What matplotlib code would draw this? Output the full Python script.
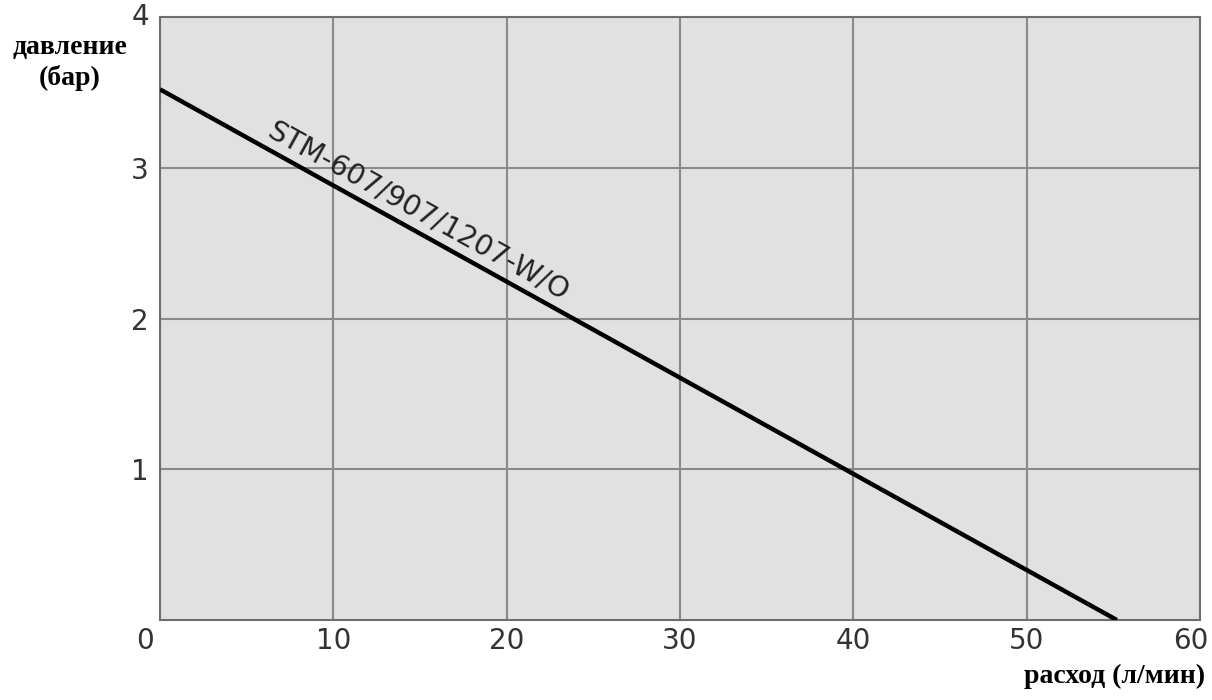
import numpy as np
import matplotlib.pyplot as plt
import matplotlib.transforms as mtransforms

# pump curve: flow (l/min) vs pressure (bar)
flow = [0, 55.2]
pressure = [3.52, 0]
curve_name = "STM-607/907/1207-W/O"

x_ticks = [0, 10, 20, 30, 40, 50, 60]
y_ticks = [1, 2, 3, 4]

fig = plt.figure(figsize=(12.12, 7.0), dpi=100)
ax = fig.add_axes([160 / 1212, 80 / 700, 1040 / 1212, 603 / 700])
ax.set_facecolor("#e1e1e1")

ax.plot(flow, pressure, color="black", lw=3.2, solid_capstyle="butt", zorder=3)

ax.set_xlim(0, 60)
ax.set_ylim(0, 4)
ax.set_xticks(x_ticks)
ax.set_yticks(y_ticks)
ax.set_xticklabels([str(v) for v in x_ticks], fontsize=20, color="#333333")
ax.set_yticklabels([str(v) for v in y_ticks], fontsize=20, color="#333333")
ax.tick_params(axis="x", length=0, pad=5)
ax.tick_params(axis="y", length=0, pad=8)
ax.grid(True, color="#8a8a8a", lw=1.5)
ax.set_axisbelow(True)
for s in ax.spines.values():
    s.set_color("#6e6e6e")
    s.set_linewidth(1.5)

# shift the "0" label left to the corner, and "60" a little inside
xl = ax.get_xticklabels()
xl[0].set_transform(xl[0].get_transform() + mtransforms.ScaledTranslation(-0.15, 0, fig.dpi_scale_trans))
xl[-1].set_transform(xl[-1].get_transform() + mtransforms.ScaledTranslation(-0.09, 0, fig.dpi_scale_trans))
ax.get_yticklabels()[-1].set_va("center")

# curve label, rotated along the line
p0 = ax.transData.transform((flow[0], pressure[0]))
p1 = ax.transData.transform((flow[1], pressure[1]))
angle = np.degrees(np.arctan2(p1[1] - p0[1], p1[0] - p0[0]))
ax.text(14.9, 2.71, curve_name, rotation=angle, rotation_mode="anchor",
        ha="center", va="center", fontsize=20.5, color="#222222")

fig.text(70 / 1212, 1 - 63 / 700, "давление\n(бар)", ha="center", va="center",
         family="Liberation Serif", fontweight="bold", fontsize=20, linespacing=1.25)
fig.text(1205 / 1212, 1 - 676 / 700, "расход (л/мин)", ha="right", va="center",
         family="Liberation Serif", fontweight="bold", fontsize=20)

fig.savefig("out.png", dpi=100, facecolor="white")
